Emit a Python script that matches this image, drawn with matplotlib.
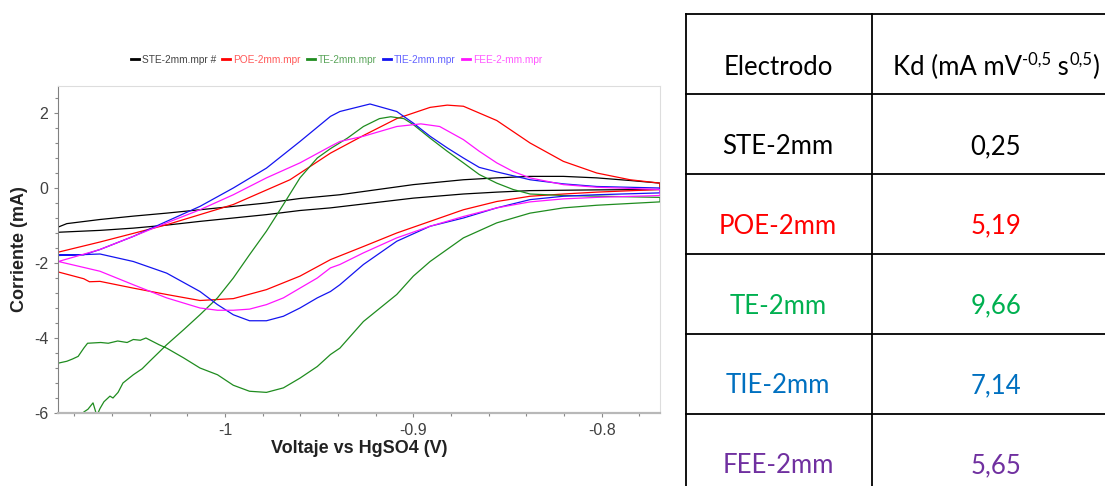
import matplotlib
matplotlib.use("Agg")
import matplotlib.pyplot as plt
from matplotlib.lines import Line2D
from matplotlib.ticker import MultipleLocator, FuncFormatter

plt.rcParams['font.family'] = ['Liberation Sans', 'DejaVu Sans']
plt.rcParams['axes.unicode_minus'] = False

# ---- data (V vs HgSO4, mA) ----
ste_v = [-1.0885, -1.084, -1.0664, -1.0487, -1.031, -1.0133, -0.9956, -0.978, -0.9602, -0.939,
         -0.9, -0.8734, -0.8557, -0.838, -0.8203, -0.8026, -0.7849, -0.769,
         -0.769, -0.8026, -0.838, -0.8557, -0.8734, -0.9, -0.944,
         -0.9602, -0.978, -0.9956, -1.0133, -1.031, -1.0487, -1.0664, -1.0885]
ste_i = [-1.04, -0.95, -0.84, -0.75, -0.67, -0.58, -0.49, -0.40, -0.28, -0.18,
         0.09, 0.22, 0.27, 0.31, 0.31, 0.27, 0.20, 0.13,
         -0.04, -0.05, -0.07, -0.11, -0.16, -0.27, -0.53,
         -0.60, -0.71, -0.80, -0.89, -0.99, -1.07, -1.13, -1.18]

poe_v = [-1.0885, -1.0664, -1.031, -0.9956, -0.9655, -0.944, -0.9265, -0.9088, -0.8911, -0.882,
         -0.8734, -0.8557, -0.838, -0.8203, -0.8026, -0.7849, -0.769,
         -0.769, -0.8026, -0.8203, -0.838, -0.8557, -0.8734, -0.8911, -0.9088, -0.9265, -0.944,
         -0.9602, -0.978, -0.9956, -1.0133, -1.031, -1.0487, -1.0664, -1.072, -1.075, -1.0885]
poe_i = [-1.71, -1.44, -0.98, -0.44, 0.22, 0.93, 1.40, 1.85, 2.15, 2.21,
         2.18, 1.80, 1.20, 0.71, 0.40, 0.22, 0.13,
         -0.04, -0.11, -0.16, -0.22, -0.36, -0.58, -0.89, -1.20, -1.56, -1.91,
         -2.35, -2.71, -2.95, -3.00, -2.84, -2.67, -2.49, -2.50, -2.42, -2.24]

te_v = [-1.078, -1.0749, -1.0728, -1.0701, -1.0685, -1.068, -1.0664, -1.0643, -1.0611, -1.0595,
        -1.0568, -1.0542, -1.0487, -1.044, -1.04, -1.0355, -1.031, -1.0265, -1.022, -1.0133,
        -1.004, -0.9956, -0.987, -0.978, -0.969, -0.9602, -0.951, -0.944, -0.935, -0.9265,
        -0.918, -0.912, -0.905, -0.9, -0.8911, -0.882, -0.8734, -0.865, -0.8557, -0.847,
        -0.838, -0.8203, -0.769,
        -0.769, -0.8026, -0.8203, -0.838, -0.8557, -0.8734, -0.8911, -0.9, -0.9088, -0.9265,
        -0.939, -0.944, -0.951, -0.9602, -0.969, -0.978, -0.987, -0.9956, -1.004, -1.0133,
        -1.022, -1.031, -1.035, -1.042, -1.045, -1.0487, -1.052, -1.057, -1.062, -1.066,
        -1.073, -1.075, -1.078, -1.081, -1.084, -1.0885]
te_i = [-6.15, -5.97, -5.90, -5.73, -6.00, -6.06, -5.88, -5.70, -5.55, -5.60,
        -5.45, -5.20, -4.98, -4.82, -4.62, -4.40, -4.18, -3.98, -3.78, -3.38,
        -2.93, -2.40, -1.78, -1.15, -0.44, 0.27, 0.80, 1.05, 1.33, 1.64,
        1.85, 1.90, 1.85, 1.69, 1.33, 0.98, 0.67, 0.36, 0.13, -0.04,
        -0.16, -0.20, -0.25,
        -0.37, -0.46, -0.53, -0.67, -0.93, -1.33, -1.96, -2.35, -2.84, -3.56,
        -4.27, -4.44, -4.76, -5.07, -5.33, -5.45, -5.42, -5.26, -4.98, -4.80,
        -4.53, -4.27, -4.18, -4.00, -4.06, -4.04, -4.12, -4.08, -4.14, -4.12,
        -4.14, -4.27, -4.49, -4.56, -4.62, -4.67]

tie_v = [-1.0885, -1.075, -1.0664, -1.0487, -1.031, -1.0133, -0.9956, -0.978, -0.9602, -0.944,
         -0.939, -0.935, -0.923, -0.9088, -0.9, -0.8911, -0.882, -0.8734, -0.865, -0.8557,
         -0.838, -0.8203, -0.8026, -0.769,
         -0.769, -0.8026, -0.8203, -0.838, -0.8557, -0.8734, -0.8911, -0.9088, -0.9265, -0.939,
         -0.944, -0.951, -0.9602, -0.969, -0.978, -0.987, -0.9956, -1.004, -1.0133, -1.031,
         -1.0487, -1.0664, -1.0885]
tie_i = [-1.78, -1.78, -1.64, -1.29, -0.89, -0.49, 0.00, 0.53, 1.24, 1.91,
         2.04, 2.09, 2.24, 2.04, 1.73, 1.38, 1.07, 0.80, 0.55, 0.43,
         0.22, 0.11, 0.04, 0.00,
         -0.13, -0.18, -0.22, -0.31, -0.53, -0.80, -1.02, -1.42, -2.04, -2.58,
         -2.76, -2.93, -3.20, -3.42, -3.54, -3.54, -3.38, -3.11, -2.76, -2.27,
         -1.96, -1.76, -1.80]

fee_v = [-1.0885, -1.0664, -1.0487, -1.031, -1.0133, -0.9956, -0.978, -0.9602, -0.944, -0.939,
         -0.9265, -0.9088, -0.896, -0.886, -0.8734, -0.865, -0.8557, -0.847, -0.838, -0.8203,
         -0.8026, -0.769,
         -0.769, -0.8026, -0.8203, -0.838, -0.8557, -0.8734, -0.8911, -0.9088, -0.9265, -0.939,
         -0.944, -0.951, -0.9602, -0.969, -0.978, -0.987, -0.9956, -1.004, -1.0133, -1.031,
         -1.0487, -1.0664, -1.0885]
fee_i = [-1.96, -1.64, -1.29, -0.93, -0.58, -0.18, 0.27, 0.67, 1.11, 1.24,
         1.38, 1.64, 1.71, 1.64, 1.29, 0.98, 0.67, 0.44, 0.27, 0.09,
         0.02, -0.04,
         -0.20, -0.25, -0.29, -0.37, -0.53, -0.76, -1.02, -1.33, -1.73, -2.04,
         -2.13, -2.40, -2.67, -2.93, -3.11, -3.23, -3.26, -3.26, -3.20, -2.93,
         -2.58, -2.22, -1.96]

legend_labels = ["STE-2mm.mpr #", "POE-2mm.mpr", "TE-2mm.mpr", "TIE-2mm.mpr", "FEE-2-mm.mpr"]

electrodes = ["STE-2mm", "POE-2mm", "TE-2mm", "TIE-2mm", "FEE-2mm"]
kd_values = ["0,25", "5,19", "9,66", "7,14", "5,65"]
kd_header = [("Kd (mA mV", False), ("-0,5", True), (" s", False), ("0,5", True), (")", False)]

line_colors = ['#000000', '#ff0000', '#1f8c1f', '#1414f0', '#ff14ff']
legend_text_colors = ['#444444', '#ff5a5a', '#5aa55a', '#6464ff', '#ff5aff']
table_colors = ['#000000', '#ff0000', '#00b050', '#0070c0', '#7030a0']

W, H = 1105, 486
fig = plt.figure(figsize=(W / 100, H / 100), dpi=100)

# plot area: pixels 58..660 (x), 86..413 (y)
ax = fig.add_axes([58 / W, 1 - 413 / H, 602 / W, 327 / H])

curves = [(ste_v, ste_i), (poe_v, poe_i), (te_v, te_i), (tie_v, tie_i), (fee_v, fee_i)]
handles = []
for (v, i), c, lab in zip(curves, line_colors, legend_labels):
    ln, = ax.plot(v, i, color=c, lw=0.9, label=lab)
    handles.append(ln)

ax.set_xlim(-1.0887, -0.769)
ax.set_ylim(-6, 2.72)
ax.xaxis.set_major_locator(MultipleLocator(0.1))
ax.xaxis.set_minor_locator(MultipleLocator(0.02))
ax.yaxis.set_major_locator(MultipleLocator(2))
ax.yaxis.set_minor_locator(MultipleLocator(0.4))
ax.xaxis.set_major_formatter(FuncFormatter(lambda x, p: '%g' % round(x, 2)))
ax.yaxis.set_major_formatter(FuncFormatter(lambda y, p: '%g' % round(y, 2)))

ax.tick_params(which='major', direction='out', length=3, width=0.8, color='#888888',
               labelsize=11.5, labelcolor='#404040', pad=4)
ax.tick_params(which='minor', direction='out', length=2, width=0.8, color='#888888')

for s in ['top', 'right']:
    ax.spines[s].set_color('#dddddd')
    ax.spines[s].set_linewidth(0.8)
ax.spines['left'].set_color('#808080')
ax.spines['left'].set_linewidth(0.8)
ax.spines['bottom'].set_color('#b8b8b8')
ax.spines['bottom'].set_linewidth(1.6)

ax.set_xlabel("Voltaje vs HgSO4 (V)", fontsize=13, fontweight='bold', color='#222222')
ax.set_ylabel("Corriente (mA)", fontsize=13, fontweight='bold', color='#222222')
ax.xaxis.set_label_coords(0.5, -0.083)
ax.yaxis.set_label_coords(-0.05, 0.5)

leg = fig.legend(handles=handles, labels=legend_labels, loc='center',
                 bbox_to_anchor=(336.5 / W, 1 - 60 / H), ncol=5, frameon=False,
                 fontsize=7.3, handlelength=0.8, handletextpad=0.3, columnspacing=0.6,
                 labelcolor=legend_text_colors)
for h in leg.legend_handles:
    h.set_linewidth(2)

# ---- table on the right ----
def fx(px):
    return px / W

def fy(py):
    return 1 - py / H

tbl_left, tbl_mid, tbl_right = 686, 872, W
row_tops = [14, 94, 174, 254, 334, 414]
for y in row_tops:
    fig.add_artist(Line2D([fx(tbl_left), fx(tbl_right)], [fy(y), fy(y)],
                          transform=fig.transFigure, color='black', lw=1.3))
for x in [tbl_left, tbl_mid]:
    fig.add_artist(Line2D([fx(x), fx(x)], [fy(14), fy(H + 2)],
                          transform=fig.transFigure, color='black', lw=1.3))

col1_x, col2_x = 778, 996
tfam = ['Lato', 'DejaVu Sans']
tsize = 18.5
fig.text(fx(col1_x), fy(75), "Electrodo", ha='center', va='baseline', color='black',
         family=tfam, fontsize=tsize)

# header of column 2, built piece by piece so the superscripts keep plain hyphens
renderer = fig.canvas.get_renderer()
pieces = []
for txt, sup in kd_header:
    t = fig.text(0, fy(65 if sup else 75), txt, ha='left', va='baseline', color='black',
                 family=tfam, fontsize=12 if sup else tsize)
    pieces.append(t)
widths = [t.get_window_extent(renderer).width for t in pieces]
x = col2_x - sum(widths) / 2
for t, w in zip(pieces, widths):
    t.set_x(fx(x))
    x += w

for k, (name, val, c) in enumerate(zip(electrodes, kd_values, table_colors)):
    base = 154 + 79.8 * k
    fig.text(fx(col1_x), fy(base), name, ha='center', va='baseline', color=c,
             family=tfam, fontsize=tsize)
    fig.text(fx(col2_x), fy(base), val, ha='center', va='baseline', color=c,
             family=tfam, fontsize=tsize)

fig.savefig("out.png", dpi=100)
